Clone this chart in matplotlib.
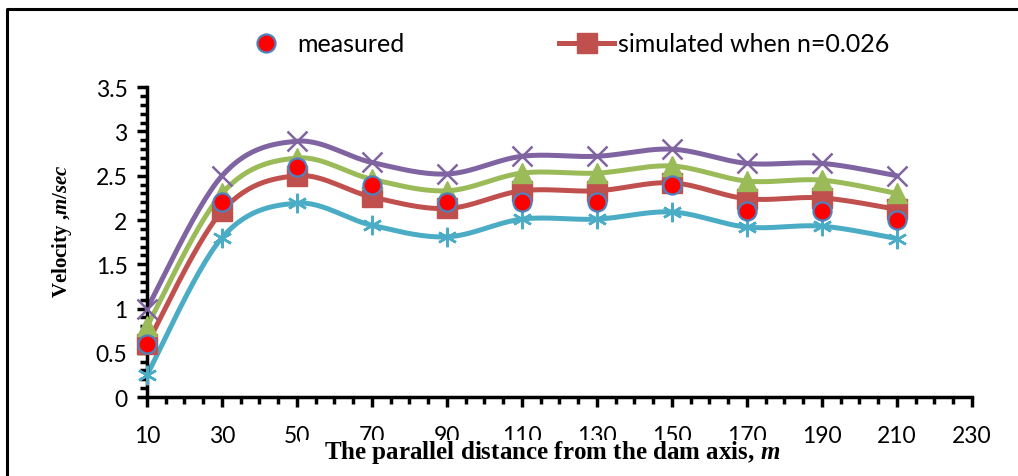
import numpy as np
import matplotlib
matplotlib.use("Agg")
import matplotlib.pyplot as plt
from matplotlib.lines import Line2D
from matplotlib.patches import Rectangle
from matplotlib.ticker import MultipleLocator, FuncFormatter

plt.rcParams["mathtext.fontset"] = "custom"
plt.rcParams["mathtext.it"] = "Liberation Serif:italic:bold"
plt.rcParams["mathtext.rm"] = "Liberation Serif:bold"

# distance from the dam axis (m)
distance = [10, 30, 50, 70, 90, 110, 130, 150, 170, 190, 210]
# velocities (m/sec)
measured = [0.6, 2.2, 2.6, 2.4, 2.2, 2.2, 2.2, 2.4, 2.1, 2.1, 2.0]
sim_red = [0.6, 2.1, 2.5, 2.26, 2.13, 2.33, 2.33, 2.42, 2.24, 2.25, 2.12]
sim_green = [0.8, 2.3, 2.7, 2.46, 2.33, 2.53, 2.53, 2.61, 2.44, 2.45, 2.3]
sim_purple = [1.0, 2.5, 2.89, 2.65, 2.52, 2.72, 2.72, 2.8, 2.64, 2.64, 2.5]
sim_cyan = [0.25, 1.8, 2.19, 1.94, 1.81, 2.01, 2.01, 2.09, 1.92, 1.93, 1.79]

x_ticks = [10, 30, 50, 70, 90, 110, 130, 150, 170, 190, 210, 230]


def smooth(x, y, n=30):
    # Catmull-Rom style smoothing, like Excel's smoothed lines
    x = np.asarray(x, float)
    y = np.asarray(y, float)
    px = np.concatenate([[x[0]], x, [x[-1]]])
    py = np.concatenate([[y[0]], y, [y[-1]]])
    xs, ys = [], []
    t = np.linspace(0, 1, n)
    for i in range(1, len(px) - 2):
        a = np.array([px[i - 1], py[i - 1]])
        b = np.array([px[i], py[i]])
        c = np.array([px[i + 1], py[i + 1]])
        d = np.array([px[i + 2], py[i + 2]])
        c1 = b + (c - a) / 6
        c2 = c - (d - b) / 6
        pts = ((1 - t) ** 3)[:, None] * b + (3 * (1 - t) ** 2 * t)[:, None] * c1 \
            + (3 * (1 - t) * t ** 2)[:, None] * c2 + (t ** 3)[:, None] * c
        xs.append(pts[:, 0])
        ys.append(pts[:, 1])
    return np.concatenate(xs), np.concatenate(ys)


fig = plt.figure(figsize=(10.18, 4.77), dpi=100)
ax = fig.add_axes([0.1444, 0.1656, 0.8104, 0.6494])

lw = 3.6
series = [
    (sim_cyan, "#4BACC6", dict(marker=(6, 2, 0), markersize=14, markeredgewidth=1.8)),
    (sim_red, "#C0504D", dict(marker="s", markersize=15)),
    (sim_green, "#9BBB59", dict(marker="^", markersize=15)),
    (sim_purple, "#8064A2", dict(marker="x", markersize=14, markeredgewidth=1.8)),
]
for vals, col, mk in series:
    sx, sy = smooth(distance, vals)
    ax.plot(sx, sy, color=col, lw=lw, solid_capstyle="round", zorder=2, clip_on=False)
    ax.plot(distance, vals, ls="none", color=col, markerfacecolor=col,
            markeredgecolor=col, zorder=3, clip_on=False, **mk)

ax.plot(distance, measured, ls="none", marker="o", markersize=13,
        markerfacecolor="#FF0000", markeredgecolor="#4F81BD",
        markeredgewidth=1.6, zorder=5, clip_on=False)

ax.set_xlim(10, 230)
ax.set_ylim(0, 3.5)
ax.set_xticks(x_ticks)
ax.xaxis.set_minor_locator(MultipleLocator(5))
ax.yaxis.set_major_locator(MultipleLocator(0.5))
ax.yaxis.set_minor_locator(MultipleLocator(0.1))
ax.yaxis.set_major_formatter(FuncFormatter(lambda v, p: f"{v:g}"))

for s in ["top", "right"]:
    ax.spines[s].set_visible(False)
for s in ["left", "bottom"]:
    ax.spines[s].set_linewidth(2.5)

ax.tick_params(which="major", direction="out", length=7, width=2.5,
               labelsize=16.5, pad=7)
ax.tick_params(which="minor", direction="out", length=5, width=2.5)
for lab in ax.get_xticklabels() + ax.get_yticklabels():
    lab.set_fontfamily("Lato")
ax.tick_params(axis="x", pad=13)

ax.set_ylabel(r"Velocity ,$\mathit{m/sec}$", fontfamily="Liberation Serif",
              fontweight="bold", fontsize=15, labelpad=16)
ax.yaxis.set_label_coords(-0.088, 0.54)

# white box behind the x axis title hides part of the tick labels
fig.add_artist(Rectangle((0.295, 0), 0.483, 0.0755, transform=fig.transFigure,
                         facecolor="white", edgecolor="none", zorder=2))
fig.text(0.542, 0.052, r"The parallel distance from the dam axis, $\mathit{m}$",
         ha="center", va="center", fontfamily="Liberation Serif",
         fontweight="bold", fontsize=18, zorder=3)

# outer frame (only top and left edges visible)
fig.add_artist(Line2D([0.0069, 0.0069, 1.0], [0.0, 0.979, 0.979],
                      transform=fig.transFigure, color="black", lw=2.2))

handles = [
    Line2D([], [], ls="none", marker="o", markersize=13, markerfacecolor="#FF0000",
           markeredgecolor="#4F81BD", markeredgewidth=1.6),
    Line2D([], [], color="#C0504D", lw=lw, marker="s", markersize=15),
]
fig.legend(handles, ["measured", "simulated when n=0.026"], ncol=2,
           loc="center", bbox_to_anchor=(0.554, 0.906), frameon=False,
           prop=dict(family="Lato", size=18), handlelength=2.2,
           handletextpad=0.15, columnspacing=6.2)

fig.savefig("out.png", dpi=100, facecolor="white")
